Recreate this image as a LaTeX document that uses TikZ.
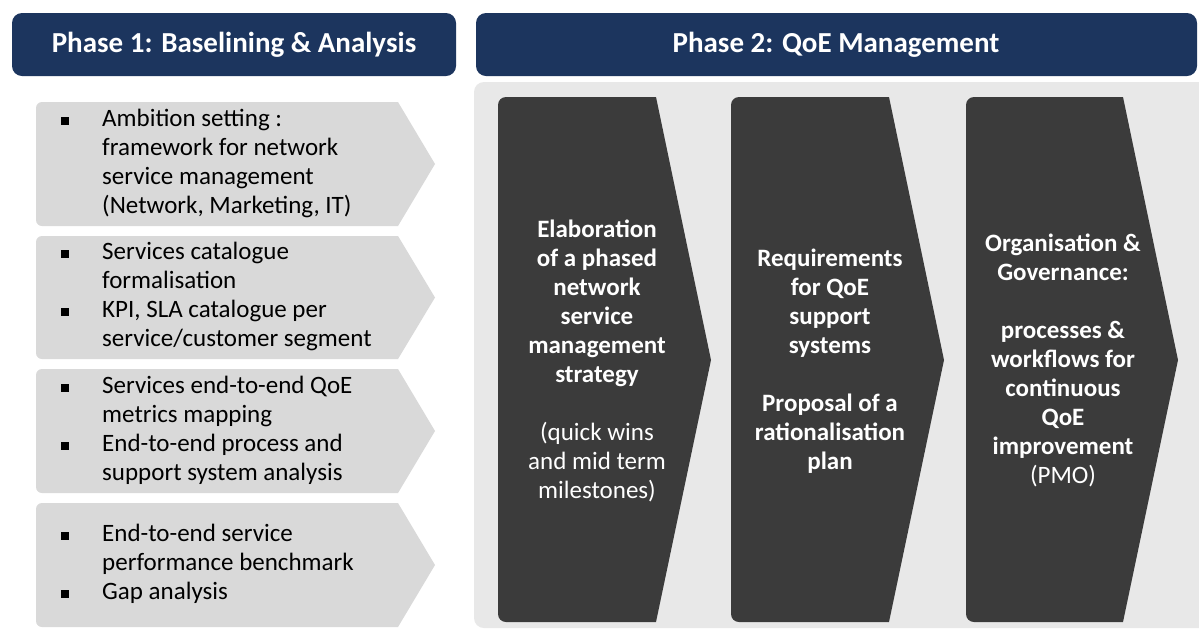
\documentclass[tikz,border=0pt]{standalone}
\usepackage{fontspec}
\setmainfont{Carlito}
\definecolor{navy}{HTML}{1C355E}
\definecolor{panelgray}{HTML}{E8E8E8}
\definecolor{chevgray}{HTML}{D9D9D9}
\definecolor{darkshape}{HTML}{3B3B3B}
\newcommand\bul{\raisebox{1.6pt}{\rule{8pt}{8pt}}}
\newcommand\lchevron[2]{% top, bottom
  \fill[chevgray] (398,#1) -- (42,#1) arc[start angle=270,end angle=180,radius=6]
    -- (36,#2-6) arc[start angle=180,end angle=90,radius=6]
    -- (398,#2) -- (435,{(#1+#2)/2}) -- cycle;}
\newcommand\dchevron[3]{% left, right, tip
  \fill[darkshape] (#2,97) -- (#1+8,97) arc[start angle=270,end angle=180,radius=8]
    -- (#1,614) arc[start angle=180,end angle=90,radius=8]
    -- (#2,622) -- (#3,360) -- cycle;}
\begin{document}
\begin{tikzpicture}[x=1pt,y=-1pt,
  hdr/.style={fill=navy, rounded corners=10pt},
  hdrtext/.style={text=white, inner sep=0pt, font=\fontsize{29}{34}\selectfont\bfseries},
  ltext/.style={anchor=west, align=left, inner sep=0pt, font=\fontsize{25}{29}\selectfont},
  dtext/.style={align=center, text=white, inner sep=0pt, font=\fontsize{25}{29}\selectfont\bfseries}]
\useasboundingbox (0,0) rectangle (1199,633);
\fill[white] (0,0) rectangle (1199,633);
% headers
\fill[hdr] (12,13) rectangle (456,76);
\node[hdrtext] (h1) at (234,45) {Phase 1: Baselining \& Analysis};
\fill[hdr] (476,13) rectangle (1197,76);
\node[hdrtext] (h2) at (836,45) {Phase 2: QoE Management};
% panel
\fill[panelgray, rounded corners=10pt] (474,82) rectangle (1215,628);
% left chevrons
\lchevron{102}{226}
\lchevron{236}{359}
\lchevron{369}{493}
\lchevron{503}{627}
\node[ltext] (c1) at (61,164) {\begin{tabular}{@{}p{41pt}@{}l@{}}
\bul & Ambition setting :\\
 & framework for network\\
 & service management\\
 & (Network, Marketing, IT)\end{tabular}};
\node[ltext] (c2) at (61,297.5) {\begin{tabular}{@{}p{41pt}@{}l@{}}
\bul & Services catalogue\\
 & formalisation\\
\bul & KPI, SLA catalogue per\\
 & service/customer segment\end{tabular}};
\node[ltext] (c3) at (61,431) {\begin{tabular}{@{}p{41pt}@{}l@{}}
\bul & Services end-to-end QoE\\
 & metrics mapping\\
\bul & End-to-end process and\\
 & support system analysis\end{tabular}};
\node[ltext] (c4) at (61,565) {\begin{tabular}{@{}p{41pt}@{}l@{}}
\bul & End-to-end service\\
 & performance benchmark\\
\bul & Gap analysis\end{tabular}};
% dark chevrons
\dchevron{498}{656}{711}
\dchevron{731}{889}{944}
\dchevron{966}{1123}{1178}
\node[dtext] (d1) at (597,361) {Elaboration\\of a phased\\network\\service\\management\\strategy\\[29pt]
\mdseries (quick wins\\ \mdseries and mid term\\ \mdseries milestones)};
\node[dtext] (d2) at (830,361) {Requirements\\for QoE\\support\\systems\\[29pt]Proposal of a\\rationalisation\\plan};
\node[dtext] (d3) at (1063,360) {Organisation \&\\Governance:\\[29pt]processes \&\\workflows for\\continuous\\QoE\\improvement\\ \mdseries (PMO)};
\end{tikzpicture}
\end{document}
